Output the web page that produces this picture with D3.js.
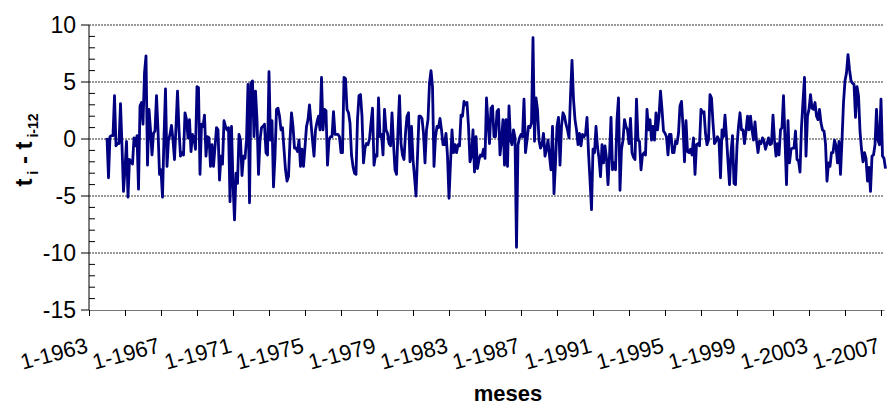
<!DOCTYPE html>
<html>
<head>
<meta charset="utf-8">
<script src="https://cdn.jsdelivr.net/npm/d3@7"></script>
<style>
  body { margin: 0; background: #fff; }
  svg { font-family: "Liberation Sans", Arial, sans-serif; }
</style>
</head>
<body>
<div id="chart"></div>
<script>
// Monthly differences t_i - t_(i-12), first value = 1-1964
const startYear = 1963;
const firstMonth = 12;  // months after 1-1963

const part1 = [0.1, -3.4, 0.2, 0.3, 0.3, 3.8, -0.6, -0.4, -0.4, 3.1, -0.6, -4.6, -2.6, -0.2, -5.1, -1.8, -2.0, -2.2, 0.1, -0.6,
  0.3, -4.4, 2.9, 3.2, 1.3, 5.8, 7.3, -2.3, 2.6, 0.8, -1.4, 0.5, 0.7, 3.8, 0.8, -3.1, -2.7, -5.1, 0.2, 4.4,
  -2.4, -0.1, 0.4, 1.2, -0.1, -1.8, 1.1, 4.2, 0.8, -1.5, -1.2, -1.4, 2.3, 1.7, 0.1, 1.7, -1.1, 0.4, 0.1, -0.9,
  4.6, 4.5, -3.1, 1.3, 1.1, 2.1, -1.5, 0.2, 0.1, -2.4, -0.5, -2.4, -0.7, 1.0, 0.8, -3.6, -1.5, -2.2, 1.6, 1.1,
  0.8, 1.0, -5.5];
const part2 = [1.1, -3.9, -7.1, -3.0, -3.9, 0.4, -0.1, -3.2, -1.5, -1.7, -0.1, 4.8, -5.6, 4.9, 5.1, 0.2, 4.2, 1.7, -3.1, -0.1,
  1.0, 1.1, 1.3, -1.2, -1.4, 5.9, -0.1, 1.6, -4.2, -1.5, 2.6, 2.7, 2.0, 0.8, 1.0, -0.9, -2.7, -3.7, -3.3, -0.1,
  2.3, 1.1, -0.8, -0.8, -1.1, -0.1, -2.4, -0.9, -2.4, -0.7, 1.1, 1.7, 3.0, 1.4, -0.1, -1.5, 0.8, 1.5, 2.0, 0.8,
  5.4, 0.8, 2.6, 2.5, -2.3, -0.1, 0.2, 0.2, 2.4, 0.4, 0.4, 0.4, 0.2, -1.2, -1.2, 5.4, 5.3, 2.6, 2.3, 1.4,
  -1.4, -2.4, -3.0, -3.1, 1.7, 3.8, 3.9, 2.0, -2.1, -0.8, -0.4];
const part3 = [-0.5, 0.0, 1.4, 2.7, -2.3, -1.4, -1.5, 3.6, 0.2, 0.4, -1.4, 2.6, 0.8, 0.5, -0.4, -0.6, 2.3, -0.4, -2.7, -3.1,
  0.8, 3.8, -0.4, -1.4, -1.8, 0.5, 2.0, 2.3, -2.0, 1.1, -1.8, -3.3, -5.0, -1.5, 2.0, 2.0, 1.8, 0.5, -2.1, 0.8,
  1.7, 4.9, 6.0, 4.6, -2.4, 0.2, 1.1, 1.0, 1.8, 0.8, -0.5, -0.5, 0.5, -1.5, -5.2, -2.1, 0.8, -1.2, -0.5, -1.2,
  -0.5, -0.6, 2.1, 2.0, 3.3, 3.0, 3.2, 1.1, -2.0, -1.5, 0.8, -2.9, 0.2, -2.6, -1.8, -1.4, -1.5, -0.9, -1.7, 3.6,
  1.4, -0.4, 2.7, 2.9, 0.2, 0.2];
const part4 = [2.4, 2.6, -1.4, -0.1, 1.7, -2.3, 1.7, -2.4, 2.9, -0.1, -0.5, 0.8, 0.1, -9.5, -0.5, 0.1, 0.4, 0.2, 3.5, -1.2,
  -0.1, 1.1, 1.0, 1.4, 8.9, -0.2, 3.6, 2.6, -0.1, -0.8, -0.5, 0.5, -1.5, -0.9, -0.1, -1.5, -2.7, 1.1, -4.8, -2.1,
  1.1, 1.9, -2.3, 1.1, 2.3, 2.0, 1.3, 0.8, 0.1, 3.8, 6.9, 3.5, 1.7, 0.8, -0.5, 0.5, -0.6, 0.4, 0.2, 0.4,
  1.9, -1.2, -3.6, -6.2, -0.9, -1.2, 1.1, -0.7, -1.7, -3.3, -0.5, -2.1, -0.6, -1.7, -4.0, -1.5, 1.9, -2.7, -2.1, -2.7,
  1.7, 3.6, -4.5, -0.9, -0.1, 1.7, 1.1, 0.8, -0.4];
const part5 = [1.8, -1.2, -1.6, -1.8, 3.5, -0.1, -0.2, -2.7, -1.4, -1.2, -1.4, 2.6, 0.8, 1.7, -0.1, 1.1, -0.1, 2.3, 0.8, 2.0,
  4.2, 2.6, 0.7, 0.5, 0.2, -1.4, 0.4, 0.4, -1.2, -1.2, -0.2, -0.4, 0.5, 2.9, 3.3, 1.1, -2.0, 1.6, -1.1, -1.2,
  -0.9, -1.4, 0.1, -3.1, -0.5, -0.4, -0.6, 2.6, 2.3, 2.4, 0.5, -0.5, -0.1, 3.9, 3.6, 1.4, -0.4, -0.2, 0.2, -0.1,
  -3.4, 0.8, 0.2, 2.1, 0.2, -2.0, -4.0, -1.2, 0.3, -3.9, -4.0, -0.6, 1.1, 2.3, 0.8, 0.8, -0.4, 0.7, 2.0, 0.8,
  2.0, 0.8, -0.1, 1.5, -0.1, -1.2];
const part6 = [-0.2, -0.4, 0.1, -0.2, -0.9, -0.4, 0.1, -0.5, -0.4, 2.1, -0.1, -1.5, -0.4, -1.4, 0.8, 1.0, 3.8, -0.1, -4.0, 1.6,
  -2.1, -0.9, -0.8, -0.8, 0.7, -1.8, -1.9, -2.9, 1.1, 3.3, 5.4, -1.5, 2.0, 2.6, 3.9, 2.7, 2.6, 3.2, 2.0, 1.7,
  2.6, 1.4, 0.8, 0.7, -0.4, -3.7, -2.1, -2.4, -1.2, -1.2, -0.1, -0.6, -2.1, -0.2, -3.1, -0.1, 3.2, 5.1, 5.8, 7.4,
  6.1, 5.1, 4.9, 4.8, 1.9, 4.6, 3.8, 0.7, -0.9, -2.0, -1.2, -1.7, -3.7, -2.5, -4.6, -1.5, -1.4, -0.5, 2.6, -0.1,
  -0.5, 3.5, -1.5, -1.7, -2.6];

const diffs = [].concat(part1, part2, part3, part4, part5, part6);
const data = diffs.map((v, i) => ({ m: firstMonth + i, v: v }));

const yTicks = [10, 5, 0, -5, -10, -15];
const xLabelYears = d3.range(1963, 2008, 4);

const width = 887, height = 405;
const margin = { top: 25, right: 3, bottom: 95, left: 89 };

const svg = d3.select("#chart").append("svg")
  .attr("width", width)
  .attr("height", height);

const x = d3.scaleLinear()
  .domain([0, 530])
  .range([margin.left, width - margin.right]);

const y = d3.scaleLinear()
  .domain([-15, 10])
  .range([height - margin.bottom, margin.top]);

// gridlines
svg.append("g")
  .selectAll("line")
  .data(yTicks.filter(d => d > -15))
  .enter().append("line")
  .attr("x1", margin.left)
  .attr("x2", width - margin.right)
  .attr("y1", d => y(d))
  .attr("y2", d => y(d))
  .attr("stroke", "#333")
  .attr("stroke-width", 1)
  .attr("stroke-dasharray", "2,1");

// y axis: major ticks outside, minor inside
const yAxis = svg.append("g").attr("transform", "translate(" + margin.left + ",0)");
yAxis.append("line")
  .attr("x1", 0).attr("x2", 0)
  .attr("y1", y(10)).attr("y2", y(-15))
  .attr("stroke", "#000");
yAxis.selectAll(".minor")
  .data(d3.range(-15, 11, 1).filter(d => d % 5 !== 0))
  .enter().append("line")
  .attr("x1", 0).attr("x2", 6)
  .attr("y1", d => y(d)).attr("y2", d => y(d))
  .attr("stroke", "#000");
yAxis.selectAll(".major")
  .data(yTicks)
  .enter().append("line")
  .attr("x1", -8).attr("x2", 0)
  .attr("y1", d => y(d)).attr("y2", d => y(d))
  .attr("stroke", "#000");
yAxis.selectAll(".lab")
  .data(yTicks)
  .enter().append("text")
  .attr("x", -13)
  .attr("y", d => y(d))
  .attr("dy", "0.36em")
  .attr("text-anchor", "end")
  .style("font-size", "23px")
  .text(d => d);

// x axis
const xAxis = svg.append("g")
  .attr("transform", "translate(0," + y(-15) + ")")
  .call(d3.axisBottom(x).tickValues(d3.range(0, 531, 24)).tickFormat("").tickSize(6).tickSizeOuter(0));
xAxis.select(".domain").attr("stroke", "#777");
xAxis.selectAll(".tick line").attr("stroke", "#000");

svg.append("g")
  .selectAll("text")
  .data(xLabelYears)
  .enter().append("text")
  .attr("transform", d => "translate(" + x((d - startYear) * 12) + "," + (y(-15) + 42) + ") rotate(-15)")
  .attr("text-anchor", "end")
  .style("font-size", "22px")
  .text(d => "1-" + d);

// series
const line = d3.line()
  .x(d => x(d.m))
  .y(d => y(d.v));

svg.append("path")
  .datum(data)
  .attr("fill", "none")
  .attr("stroke", "#000080")
  .attr("stroke-width", 2.8)
  .attr("stroke-linejoin", "round")
  .attr("d", line);

// axis titles
const yTitle = svg.append("text")
  .attr("transform", "translate(32,150) rotate(-90)")
  .attr("text-anchor", "middle")
  .style("font-size", "24px")
  .style("font-weight", "bold");
yTitle.append("tspan").text("t");
yTitle.append("tspan").attr("dy", 6).style("font-size", "14px").text(" i");
yTitle.append("tspan").attr("dy", -6).text(" - t");
yTitle.append("tspan").attr("dy", 6).style("font-size", "14px").text(" i-12");

svg.append("text")
  .attr("x", 508)
  .attr("y", 401)
  .attr("text-anchor", "middle")
  .style("font-size", "22px")
  .style("font-weight", "bold")
  .text("meses");
</script>
</body>
</html>
